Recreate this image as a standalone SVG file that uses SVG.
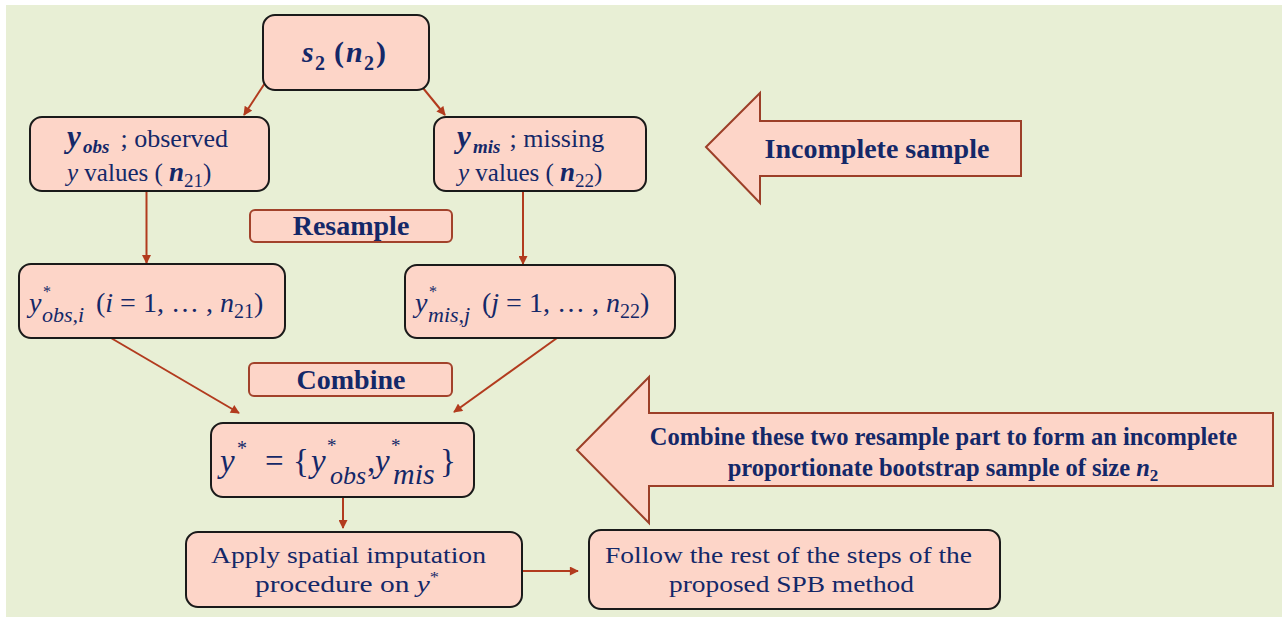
<svg xmlns="http://www.w3.org/2000/svg" width="1286" height="621" viewBox="0 0 1286 621">
<defs>
<style>
.t{font-family:"Liberation Serif","Times New Roman",serif;fill:#142868}
.b{font-weight:bold}
.i{font-style:italic}
.node rect{fill:#fdd5c8;stroke:#1a1a1a;stroke-width:2}
.lab rect{fill:#fdd5c8;stroke:#a2422b;stroke-width:2}
.big polygon{fill:#fdd5c8;stroke:#9c3f28;stroke-width:2;stroke-linejoin:miter}
.con line{stroke:#b23b1e;stroke-width:2;marker-end:url(#ah)}
</style>
<marker id="ah" viewBox="0 0 10 10" refX="9" refY="5" markerWidth="10" markerHeight="9" markerUnits="userSpaceOnUse" orient="auto">
<path d="M0,0 L10,5 L0,10 z" fill="#b23b1e"/>
</marker>
</defs>
<rect x="0" y="0" width="1286" height="621" fill="#ffffff"/>
<rect x="6" y="5" width="1276" height="612" fill="#e8efd5"/>

<g id="connectors" class="con">
<line x1="265" y1="83" x2="244" y2="115"/>
<line x1="423" y1="88" x2="445" y2="115"/>
<line x1="146.5" y1="191" x2="146.5" y2="263"/>
<line x1="523" y1="191" x2="523" y2="264"/>
<line x1="111" y1="338" x2="239" y2="413"/>
<line x1="557" y1="338" x2="454" y2="412"/>
<line x1="343" y1="497" x2="343" y2="528"/>
<line x1="522" y1="571" x2="578" y2="571"/>
</g>

<g id="s2" class="node">
<rect x="263" y="15" width="166" height="75" rx="12"/>
<text class="t b i" font-size="30" y="62"><tspan x="302">s</tspan><tspan x="315" y="70" font-size="20" font-style="normal">2</tspan><tspan x="334" y="62" font-style="normal">(</tspan><tspan x="346">n</tspan><tspan x="364" y="70" font-size="20" font-style="normal">2</tspan><tspan x="376" y="62" font-style="normal">)</tspan></text>
</g>

<g id="yobs" class="node">
<rect x="30" y="117" width="239" height="74" rx="12"/>
<text class="t" font-size="25" y="147"><tspan x="67" class="b i" font-size="31">y</tspan><tspan x="83" y="153" class="b i" font-size="19">obs</tspan><tspan x="114" y="147" font-size="26"> ; observed</tspan></text>
<text class="t" font-size="25" y="181"><tspan x="67" class="i">y</tspan><tspan> values ( </tspan><tspan class="b i" font-size="27">n</tspan><tspan font-size="19" dy="6">21</tspan><tspan dy="-6">)</tspan></text>
</g>

<g id="ymis" class="node">
<rect x="434" y="117" width="212" height="74" rx="12"/>
<text class="t" font-size="25" y="147"><tspan x="457" class="b i" font-size="31">y</tspan><tspan x="473" y="153" class="b i" font-size="19">mis</tspan><tspan x="503" y="147" font-size="26"> ; missing</tspan></text>
<text class="t" font-size="25" y="181"><tspan x="458" class="i">y</tspan><tspan> values ( </tspan><tspan class="b i" font-size="27">n</tspan><tspan font-size="19" dy="6">22</tspan><tspan dy="-6">)</tspan></text>
</g>

<g id="resample" class="lab">
<rect x="250" y="210" width="202" height="32" rx="5"/>
<text class="t b" font-size="28" x="351" y="235" text-anchor="middle">Resample</text>
</g>

<g id="yobsi" class="node">
<rect x="19" y="264" width="266" height="74" rx="12"/>
<text class="t" font-size="28" y="312"><tspan x="29" class="i">y</tspan><tspan x="43" y="297" font-size="16">*</tspan><tspan x="42" y="322" class="i" font-size="22">obs,i</tspan><tspan x="96" y="312">(</tspan><tspan class="i">i</tspan><tspan> = 1, … , </tspan><tspan class="i">n</tspan><tspan font-size="20" dy="6">21</tspan><tspan dy="-6">)</tspan></text>
</g>

<g id="ymisj" class="node">
<rect x="405" y="265" width="270" height="73" rx="12"/>
<text class="t" font-size="28" y="312"><tspan x="415" class="i">y</tspan><tspan x="429" y="297" font-size="16">*</tspan><tspan x="428" y="322" class="i" font-size="22">mis,j</tspan><tspan x="482" y="312">(</tspan><tspan class="i">j</tspan><tspan> = 1, … , </tspan><tspan class="i">n</tspan><tspan font-size="20" dy="6">22</tspan><tspan dy="-6">)</tspan></text>
</g>

<g id="combine" class="lab">
<rect x="249" y="363" width="203" height="33" rx="5"/>
<text class="t b" font-size="28" x="351" y="389" text-anchor="middle">Combine</text>
</g>

<g id="ystar" class="node">
<rect x="211" y="423" width="263" height="74" rx="12"/>
<text class="t" font-size="33" y="472"><tspan x="220" class="i">y</tspan><tspan x="237" y="455" font-size="20">*</tspan><tspan x="265" y="472">=</tspan><tspan x="293">{</tspan><tspan x="311" class="i">y</tspan><tspan x="327" y="452" font-size="19">*</tspan><tspan x="330" y="484" class="i" font-size="26">obs</tspan><tspan x="367" y="472">,</tspan><tspan x="375" class="i">y</tspan><tspan x="391" y="452" font-size="19">*</tspan><tspan x="393" y="484" class="i" font-size="30">mis</tspan><tspan x="440" y="472">}</tspan></text>
</g>

<g id="apply" class="node">
<rect x="186" y="532" width="336" height="75" rx="12"/>
<text class="t" font-size="24" x="348.5" y="563" text-anchor="middle" textLength="275" lengthAdjust="spacingAndGlyphs">Apply spatial imputation</text>
<text class="t" font-size="24" x="347" y="592" text-anchor="middle" textLength="184" lengthAdjust="spacingAndGlyphs">procedure on <tspan class="i">y</tspan><tspan font-size="15" dy="-10">*</tspan></text>
</g>

<g id="follow" class="node">
<rect x="589" y="530" width="411" height="79" rx="12"/>
<text class="t" font-size="24" x="788.5" y="563" text-anchor="middle" textLength="367" lengthAdjust="spacingAndGlyphs">Follow the rest of the steps of the</text>
<text class="t" font-size="24" x="791.5" y="592" text-anchor="middle" textLength="245" lengthAdjust="spacingAndGlyphs">proposed SPB method</text>
</g>

<g id="incomplete" class="big">
<polygon points="706,147 760,93 760,121 1021,121 1021,176 760,176 760,203"/>
<text class="t b" font-size="28" x="877" y="158" text-anchor="middle">Incomplete sample</text>
</g>

<g id="combinenote" class="big">
<polygon points="577,450 649,377 649,413 1273,413 1273,486 649,486 649,523"/>
<text class="t b" font-size="24.5" x="943.5" y="445" text-anchor="middle">Combine these two resample part to form an incomplete</text>
<text class="t b" font-size="24.5" x="943" y="476" text-anchor="middle">proportionate bootstrap sample of size <tspan class="i">n</tspan><tspan font-size="17" dy="5">2</tspan></text>
</g>
</svg>
